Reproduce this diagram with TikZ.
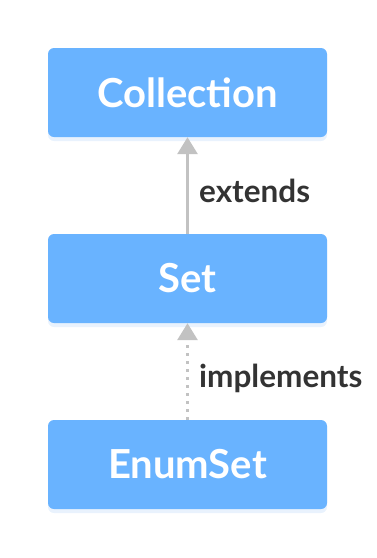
\documentclass[tikz,border=0pt]{standalone}
\usepackage{fontspec}
\setmainfont{Lato}[UprightFont=* Bold, Ligatures=Discretionary]
\usetikzlibrary{arrows.meta,shadows}
\definecolor{boxblue}{HTML}{69B3FF}
\definecolor{arrowgray}{HTML}{C2C2C2}
\definecolor{labelgray}{HTML}{333333}
\definecolor{shadowblue}{HTML}{E3EFFC}
\tikzset{
  x=1pt, y=-1pt,
  classbox/.style={fill=boxblue, rounded corners=6pt, minimum width=279pt, minimum height=89pt,
    inner sep=0pt, text=white, font=\fontsize{40}{44}\selectfont,
    drop shadow={shadow xshift=0pt, shadow yshift=-4pt, fill=shadowblue, opacity=0.8}},
  relarrow/.style={draw=arrowgray, line width=3pt, -{Triangle[length=17pt,width=20pt]}},
  reldashed/.style={relarrow, dash pattern=on 3pt off 5pt},
  rellabel/.style={text=labelgray, font=\fontsize{31.5}{36}\selectfont, anchor=base west, inner sep=0pt}
}
\begin{document}
\begin{tikzpicture}
\useasboundingbox (0,0) rectangle (376,558);
\node[classbox] (coll) at (187.5,92.5) {Collection};
\node[classbox] (set) at (187.5,278.5) {Set};
\node[classbox] (enum) at (187.5,464.5) {EnumSet};
\draw[relarrow] (set.north) -- (coll.south);
\draw[reldashed] (enum.north) -- (set.south);
\node[rellabel] (ext) at (199,202) {extends};
\node[rellabel] (impl) at (199,387) {implements};
\end{tikzpicture}
\end{document}
